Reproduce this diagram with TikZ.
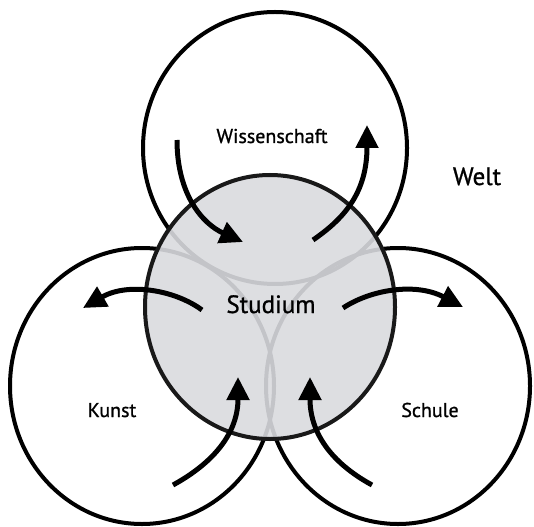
\documentclass[tikz,border=0pt]{standalone}
\usepackage{fontspec}
\setmainfont{PT Sans}[FakeBold=1]
\usetikzlibrary{shapes,arrows.meta,positioning}
\definecolor{studgrey}{RGB}{217,218,222}

\begin{document}
\begin{tikzpicture}[x=1pt,y=-1pt,
	area/.style={ellipse,draw=black,line width=4pt,inner sep=0pt},
	flow/.style={line width=5pt,-{Triangle[length=23pt,width=22pt]}},
	lbl/.style={font=\fontsize{20}{24}\selectfont,anchor=base},
	biglbl/.style={font=\fontsize{25}{30}\selectfont,anchor=base}]
	\useasboundingbox (0,0) rectangle (534,526);

	% the three outer areas
	\node[area,minimum width=264pt,minimum height=272pt] (wiss) at (275,148) {};
	\node[area,minimum width=264pt,minimum height=276pt] (kunst) at (142,386) {};
	\node[area,minimum width=264pt,minimum height=276pt] (schule) at (398,386) {};
	% studium in the middle, the outer lines shine through
	\node[area,draw=black!90,fill=studgrey,fill opacity=0.9,minimum width=250pt,minimum height=264pt] (stud) at (270,307) {};

	\node[lbl] (wisslabel) at (272,143) {Wissenschaft};
	\node[biglbl] (studlabel) at (271,313) {Studium};
	\node[biglbl] (welt) at (477,185) {Welt};
	\node[lbl] (kunstlabel) at (112,417) {Kunst};
	\node[lbl] (schulelabel) at (430,417) {Schule};

	% flows in and out
	\coordinate (wissin1) at (177,140);
	\coordinate (wissin2) at (243,242);
	\draw[flow] (wissin1) .. controls (177,195) and (203,224) .. (wissin2);
	\coordinate (wissout1) at (313,240);
	\coordinate (wissout2) at (367,125);
	\draw[flow] (wissout1) .. controls (345,218) and (367,192) .. (wissout2);
	\coordinate (kunstout1) at (202,310);
	\coordinate (kunstout2) at (83,308);
	\draw[flow] (kunstout1) .. controls (175,290) and (128,282) .. (kunstout2);
	\coordinate (kunstin1) at (173,485);
	\coordinate (kunstin2) at (238,377);
	\draw[flow] (kunstin1) .. controls (215,462) and (238,432) .. (kunstin2);
	\coordinate (schuleout1) at (343,308);
	\coordinate (schuleout2) at (463,307);
	\draw[flow] (schuleout1) .. controls (370,290) and (415,282) .. (schuleout2);
	\coordinate (schulein1) at (372,485);
	\coordinate (schulein2) at (310,377);
	\draw[flow] (schulein1) .. controls (330,462) and (310,432) .. (schulein2);
\end{tikzpicture}
\end{document}
